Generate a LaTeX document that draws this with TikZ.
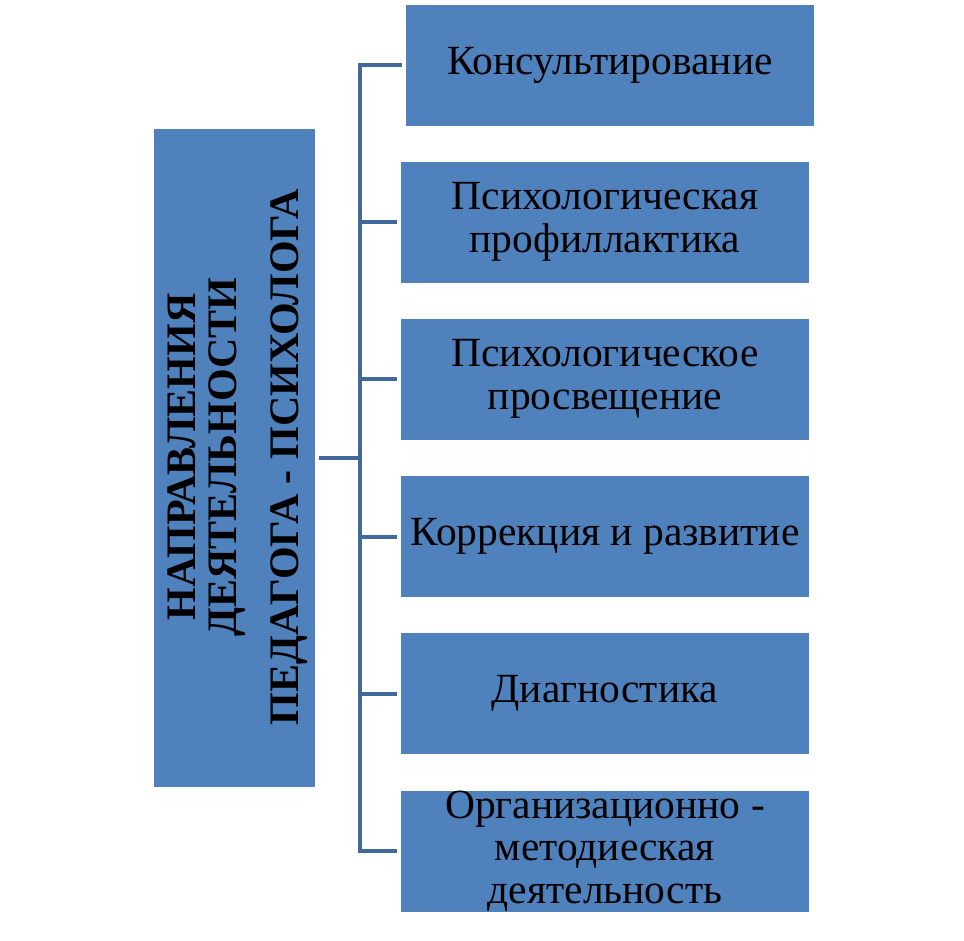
\documentclass[tikz,border=0pt]{standalone}
\usepackage{fontspec}
\setmainfont{Liberation Serif}
\definecolor{boxblue}{HTML}{4F81BD}
\definecolor{lineblue}{HTML}{41699C}
\begin{document}
\begin{tikzpicture}[x=1pt, y=-1pt,
    box/.style={fill=boxblue, minimum width=408pt, minimum height=121pt, inner sep=0pt, align=center, font=\fontsize{41.5}{42.5}\selectfont},
    link/.style={draw=lineblue, line width=4pt, shorten <=4pt, shorten >=4pt}]
\useasboundingbox (0,0) rectangle (964,940);
\node[fill=boxblue, minimum width=161pt, minimum height=658pt, inner sep=0pt] (lead) at (234.5,458) {};
\node[rotate=90, align=center, inner sep=0pt, font=\fontsize{42}{41}\selectfont\bfseries] (leadtext) at (238,457) {НАПРАВЛЕНИЯ\\ДЕЯТЕЛЬНОСТИ\\[21pt]ПЕДАГОГА - ПСИХОЛОГА};
\coordinate (fork) at (360,458);
\foreach \n/\x/\y/\t in {k1/610/65/{Консультирование},
    k2/605/222/{Психологическая\\профиллактика},
    k3/605/379/{Психологическое\\просвещение},
    k4/605/536.5/{Коррекция и развитие},
    k5/605/693.5/{Диагностика},
    k6/605/851/{Организационно -\\методиеская\\деятельность}}
{
\node[box] (\n) at (\x,\y) {\t};
\draw[link] (lead.east) -- (fork) |- (\n.west);
}
\end{tikzpicture}
\end{document}
